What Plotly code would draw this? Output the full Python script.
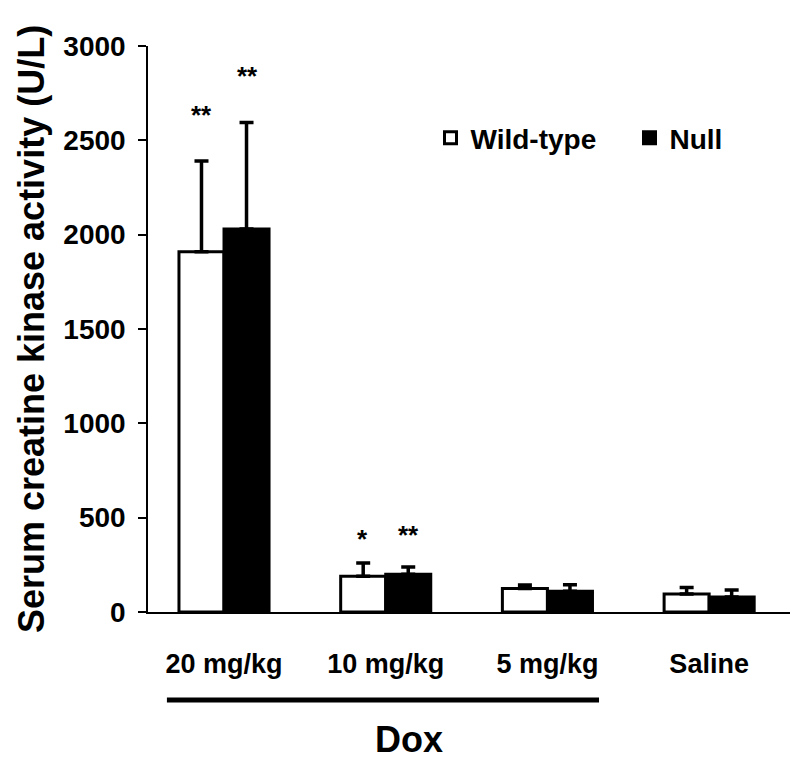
"""
Serum creatine kinase activity, wild-type vs null, by Dox dose
"""

import plotly.graph_objects as go

grupos = ['20 mg/kg', '10 mg/kg', '5 mg/kg', 'Saline']
wild_type = [1910, 190, 125, 95]
wild_type_err = [480, 70, 18, 35]
null = [2030, 200, 110, 80]
null_err = [565, 38, 35, 37]

# asteriscos de significancia
estrellas_wt = ['**', '*', '', '']
estrellas_null = ['**', '**', '', '']

FUENTE = 'Liberation Sans, Arial'

fig = go.Figure()

fig.add_trace(go.Bar(
    x=grupos, y=wild_type, name='<b>Wild-type</b>', legend='legend',
    marker=dict(color='white', line=dict(color='black', width=3)),
    error_y=dict(type='data', array=wild_type_err, arrayminus=[0] * 4,
                 symmetric=False, color='black', thickness=3.5, width=7),
))
fig.add_trace(go.Bar(
    x=grupos, y=null, name='<b>Null</b>', legend='legend2',
    marker=dict(color='black', line=dict(color='black', width=3)),
    error_y=dict(type='data', array=null_err, arrayminus=[0] * 4,
                 symmetric=False, color='black', thickness=3.5, width=7),
))

# asteriscos sobre las barras de error
desplaz_wt = [46, 24, 0, 0]
desplaz_null = [46, 32, 0, 0]
for i, g in enumerate(grupos):
    if estrellas_wt[i]:
        fig.add_annotation(x=g, y=wild_type[i] + wild_type_err[i], text='<b>' + estrellas_wt[i] + '</b>',
                           showarrow=False, xshift=-23, yshift=desplaz_wt[i], yanchor='middle',
                           font=dict(family=FUENTE, size=26, color='black'))
    if estrellas_null[i]:
        fig.add_annotation(x=g, y=null[i] + null_err[i], text='<b>' + estrellas_null[i] + '</b>',
                           showarrow=False, xshift=23, yshift=desplaz_null[i], yanchor='middle',
                           font=dict(family=FUENTE, size=26, color='black'))

# linea bajo las dosis de Dox
fig.add_shape(type='line', xref='x', yref='paper', x0=-0.353, x1=2.319, y0=-0.1555, y1=-0.1555,
              line=dict(color='black', width=5))
fig.add_annotation(x=1.144, y=-0.2244, xref='x', yref='paper', text='<b>Dox</b>',
                   showarrow=False, yanchor='middle',
                   font=dict(family=FUENTE, size=36, color='black'))

leyenda = dict(orientation='h', y=0.8375, xanchor='left', yanchor='middle',
               font=dict(family=FUENTE, size=28, color='black'),
               itemwidth=30, bgcolor='rgba(0,0,0,0)')

fig.update_layout(
    width=800, height=766,
    plot_bgcolor='white', paper_bgcolor='white',
    margin=dict(l=140, r=18, t=38, b=162),
    barmode='group', bargap=0.443, bargroupgap=0,
    font=dict(family=FUENTE, color='black'),
    showlegend=True,
    legend=dict(leyenda, x=0.44),
    legend2=dict(leyenda, x=0.75),
    xaxis=dict(range=[-0.47, 3.5], showline=True, linecolor='black', linewidth=2, ticks='',
               tickfont=dict(family=FUENTE, size=27, color='black'),
               ticklabelstandoff=27),
    yaxis=dict(range=[0, 3000], dtick=500, showline=True, linecolor='black', linewidth=1.5,
               ticks='outside', ticklen=8, tickcolor='black', tickwidth=1.5,
               showgrid=False, zeroline=False, ticklabelstandoff=7,
               tickfont=dict(family=FUENTE, size=28, color='black'),
               tickprefix='<b>', ticksuffix='</b>',
               title=dict(text='<b>Serum creatine kinase activity (U/L)</b>', standoff=8,
                          font=dict(family=FUENTE, size=36, color='black'))),
)
fig.update_xaxes(ticktext=['<b>' + g + '</b>' for g in grupos], tickvals=grupos)

fig.write_html("out.html")
